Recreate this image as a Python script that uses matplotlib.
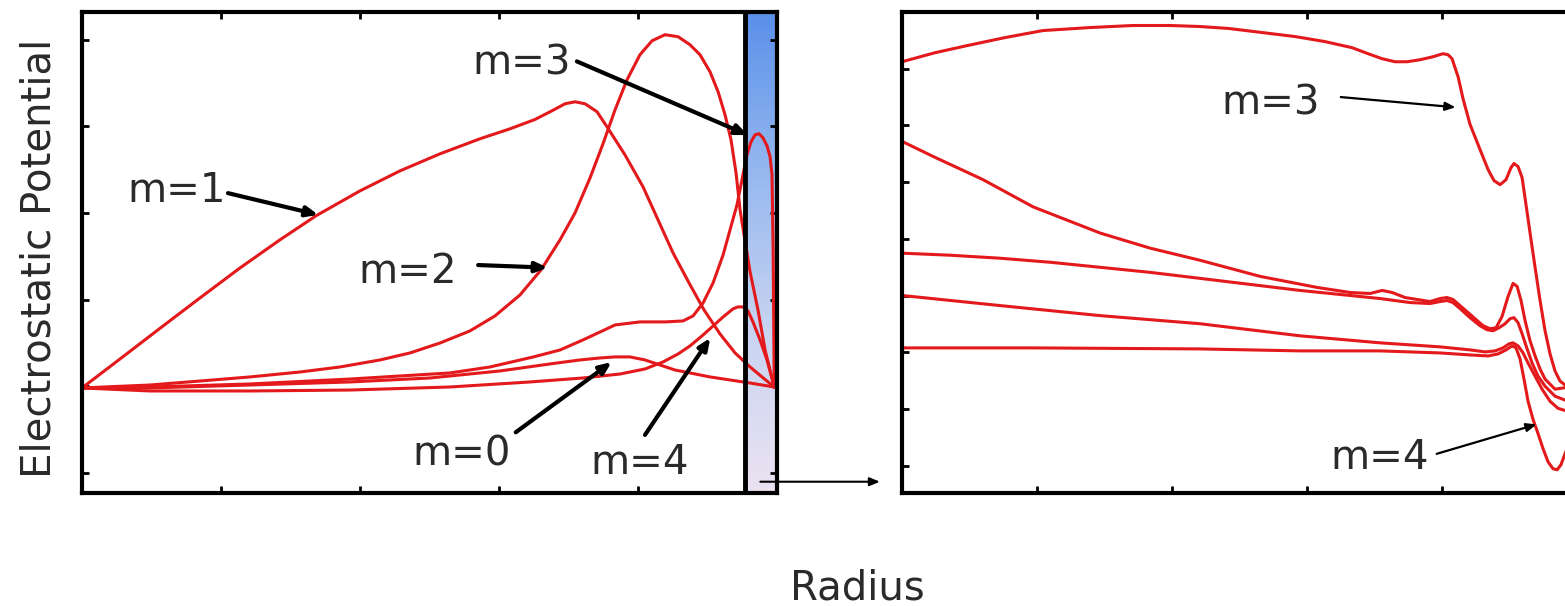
import numpy as np
import matplotlib.pyplot as plt
from matplotlib.colors import LinearSegmentedColormap

# ---- left panel: potential vs radius for each azimuthal mode ----
m0_r = [0.000, 0.489, 1.209, 1.928, 2.504, 3.007, 3.367, 3.583, 3.727, 3.835, 3.942,
        4.050, 4.158, 4.266, 4.374, 4.518, 4.662, 4.806, 4.980]
m0_phi = [0.982, 0.982, 1.016, 1.051, 1.097, 1.178, 1.259, 1.305, 1.328, 1.340, 1.340,
          1.305, 1.247, 1.189, 1.155, 1.109, 1.074, 1.039, 0.993]

m1_r = [0.000, 0.273, 0.583, 0.849, 1.137, 1.424, 1.683, 2.000, 2.288, 2.576, 2.863,
        3.079, 3.259, 3.381, 3.475, 3.547, 3.619, 3.705, 3.777, 3.906, 4.036, 4.144,
        4.252, 4.367, 4.475, 4.590, 4.698, 4.806, 4.892, 4.980]
m1_phi = [0.982, 1.316, 1.697, 2.021, 2.367, 2.691, 2.968, 3.256, 3.487, 3.684, 3.857,
          3.972, 4.080, 4.180, 4.261, 4.284, 4.261, 4.169, 3.995, 3.672, 3.303, 2.921,
          2.540, 2.194, 1.882, 1.605, 1.386, 1.224, 1.109, 0.993]

m2_r = [0.000, 0.489, 0.849, 1.209, 1.568, 1.856, 2.144, 2.360, 2.576, 2.791, 2.971,
        3.151, 3.302, 3.439, 3.547, 3.655, 3.748, 3.835, 3.921, 4.014, 4.101, 4.194,
        4.288, 4.374, 4.446, 4.518, 4.576, 4.626, 4.669, 4.705, 4.734, 4.763, 4.806,
        4.863, 4.914, 4.980]
m2_phi = [0.982, 1.016, 1.062, 1.109, 1.166, 1.224, 1.305, 1.386, 1.501, 1.640, 1.813,
          2.055, 2.344, 2.691, 3.002, 3.406, 3.799, 4.192, 4.538, 4.827, 4.988, 5.058,
          5.035, 4.942, 4.827, 4.630, 4.400, 4.134, 3.845, 3.466, 3.037, 2.748, 2.322,
          1.882, 1.420, 0.993]

m3_r = [0.000, 0.489, 1.209, 1.928, 2.647, 2.935, 3.245, 3.439, 3.604, 3.727, 3.835,
        4.014, 4.194, 4.324, 4.396, 4.468, 4.540, 4.612, 4.662, 4.712, 4.755, 4.784,
        4.813, 4.842, 4.871, 4.899, 4.928, 4.950, 4.964, 4.972, 4.980]
m3_phi = [0.982, 0.993, 1.028, 1.085, 1.155, 1.224, 1.339, 1.420, 1.536, 1.628, 1.709,
          1.744, 1.744, 1.755, 1.813, 1.963, 2.194, 2.517, 2.806, 3.095, 3.441, 3.672,
          3.822, 3.903, 3.915, 3.868, 3.776, 3.649, 3.441, 2.575, 0.993]

m4_r = [0.000, 0.489, 1.209, 1.928, 2.647, 3.223, 3.604, 3.871, 4.050, 4.180, 4.288,
        4.374, 4.460, 4.540, 4.612, 4.683, 4.719, 4.755, 4.791, 4.827, 4.878, 4.928,
        4.980]
m4_phi = [0.982, 0.947, 0.947, 0.958, 0.993, 1.051, 1.097, 1.143, 1.201, 1.282, 1.374,
          1.467, 1.582, 1.697, 1.801, 1.894, 1.917, 1.917, 1.871, 1.744, 1.536, 1.305,
          0.993]

# ---- right panel: zoom on the wall region ----
z3_r = [0.000, 0.244, 0.481, 0.763, 1.044, 1.393, 1.711, 1.985, 2.207, 2.422, 2.667,
        2.911, 3.133, 3.333, 3.452, 3.556, 3.652, 3.741, 3.837, 3.933, 4.007, 4.044,
        4.074, 4.119, 4.156, 4.207, 4.281, 4.341, 4.385, 4.430, 4.474, 4.511, 4.533,
        4.563, 4.593, 4.622, 4.652, 4.689, 4.726, 4.763, 4.800, 4.837, 4.874, 4.933]
z3_phi = [7.123, 7.282, 7.407, 7.549, 7.673, 7.726, 7.762, 7.762, 7.744, 7.709, 7.638,
          7.567, 7.478, 7.371, 7.265, 7.176, 7.123, 7.123, 7.158, 7.211, 7.265, 7.247,
          7.176, 6.856, 6.465, 6.021, 5.577, 5.222, 5.027, 4.956, 5.044, 5.258, 5.329,
          5.275, 5.080, 4.600, 4.103, 3.499, 2.913, 2.380, 1.972, 1.670, 1.492, 1.385]

z2_r = [0.000, 0.230, 0.600, 0.970, 1.467, 1.837, 2.207, 2.652, 3.074, 3.319, 3.467,
        3.556, 3.630, 3.726, 3.911, 3.985, 4.037, 4.081, 4.133, 4.193, 4.244, 4.304,
        4.356, 4.400, 4.444, 4.489, 4.526, 4.556, 4.585, 4.615, 4.652, 4.689, 4.726,
        4.763, 4.837, 4.933]
z2_phi = [5.719, 5.453, 5.044, 4.565, 4.103, 3.837, 3.623, 3.339, 3.144, 3.055, 3.037,
          3.091, 3.055, 2.966, 2.895, 2.948, 2.966, 2.931, 2.824, 2.700, 2.593, 2.469,
          2.416, 2.433, 2.629, 2.984, 3.215, 3.162, 2.913, 2.558, 2.202, 1.936, 1.705,
          1.528, 1.350, 1.385]

z1_r = [0.000, 0.356, 0.726, 1.096, 1.467, 1.837, 2.207, 2.578, 2.948, 3.244, 3.541,
        3.763, 3.911, 3.985, 4.037, 4.081, 4.133, 4.207, 4.281, 4.333, 4.378, 4.422,
        4.467, 4.504, 4.533, 4.563, 4.593, 4.630, 4.667, 4.711, 4.763, 4.837, 4.933]
z1_phi = [3.748, 3.712, 3.659, 3.588, 3.499, 3.410, 3.304, 3.197, 3.091, 3.020, 2.948,
          2.877, 2.860, 2.895, 2.913, 2.877, 2.771, 2.611, 2.469, 2.398, 2.380, 2.433,
          2.504, 2.593, 2.611, 2.522, 2.327, 2.060, 1.812, 1.581, 1.403, 1.226, 1.137]

z0_r = [0.000, 0.726, 1.467, 2.207, 2.948, 3.541, 3.985, 4.207, 4.319, 4.393, 4.452,
        4.496, 4.526, 4.563, 4.600, 4.637, 4.689, 4.741, 4.800, 4.859, 4.933]
z0_phi = [3.002, 2.824, 2.647, 2.504, 2.291, 2.167, 2.096, 2.043, 2.007, 2.025, 2.078,
          2.149, 2.167, 2.114, 1.989, 1.812, 1.581, 1.350, 1.137, 1.012, 0.959]

z4_r = [0.000, 0.970, 2.207, 2.948, 3.541, 3.985, 4.207, 4.341, 4.415, 4.474, 4.519,
        4.548, 4.578, 4.607, 4.637, 4.674, 4.711, 4.748, 4.785, 4.822, 4.852, 4.881,
        4.911, 4.948]
z4_phi = [2.078, 2.078, 2.060, 2.025, 2.025, 1.989, 1.954, 1.936, 1.972, 2.043, 2.114,
          2.078, 1.883, 1.528, 1.137, 0.817, 0.568, 0.302, 0.071, -0.053, -0.071, 0.018,
          0.213, 0.426]

wall_r = 4.77  # start of the shaded wall strip

RED = "#e3191c"
TXT = "#2a2a2a"
FS = 29

plt.rcParams["font.family"] = ["DejaVu Sans"]

fig = plt.figure(figsize=(15.65, 6.06), dpi=100)
ax1 = fig.add_axes([0.0524, 0.1865, 0.4441, 0.7937])
ax2 = fig.add_axes([0.5764, 0.1865, 0.4313, 0.7937])


def style(ax, yticks):
    ax.set_xticks(range(6))
    ax.set_yticks(yticks)
    ax.tick_params(direction="in", top=True, right=True, length=5, width=2,
                   labelbottom=False, labelleft=False)
    for s in ax.spines.values():
        s.set_linewidth(3)


# wall strip with vertical blue gradient
cmap = LinearSegmentedColormap.from_list(
    "wall", ["#ebe2f2", "#c9d4f1", "#96b8ef", "#5a90ea"])
grad = np.linspace(0, 1, 256).reshape(-1, 1)
ax1.imshow(grad, cmap=cmap, origin="lower", aspect="auto",
           extent=[wall_r, 5.0, -0.23, 5.32], zorder=0)
ax1.axvline(wall_r, color="k", lw=3.5, zorder=3)

for r, phi in ((m0_r, m0_phi), (m1_r, m1_phi), (m2_r, m2_phi),
               (m3_r, m3_phi), (m4_r, m4_phi)):
    ax1.plot(r, phi, color=RED, lw=2.2, solid_joinstyle="round", zorder=2)

ax1.set_xlim(0, 5)
ax1.set_ylim(-0.23, 5.32)
style(ax1, range(6))

thick = dict(arrowstyle="-|>,head_length=0.7,head_width=0.3", color="k", lw=3,
             shrinkA=0, shrinkB=0)
for lab, txy, tail, tip in (("m=1", (0.68, 3.25), (1.05, 3.23), (1.70, 2.98)),
                            ("m=2", (2.34, 2.32), (2.85, 2.40), (3.35, 2.37)),
                            ("m=3", (3.16, 4.73), (3.56, 4.75), (4.79, 3.90)),
                            ("m=0", (2.73, 0.21), (3.12, 0.47), (3.81, 1.28)),
                            ("m=4", (4.01, 0.12), (4.05, 0.44), (4.52, 1.56))):
    ax1.text(*txy, lab, fontsize=FS, color=TXT, ha="center", va="center")
    ax1.annotate("", xy=tip, xytext=tail, arrowprops=thick, zorder=4)

# link arrow from the wall strip to the zoomed panel
ax1.annotate("", xy=(5.74, -0.10), xytext=(4.88, -0.10), annotation_clip=False,
             arrowprops=dict(arrowstyle="-|>,head_length=0.6,head_width=0.25",
                             color="k", lw=1.5, shrinkA=0, shrinkB=0))

for r, phi in ((z3_r, z3_phi), (z2_r, z2_phi), (z1_r, z1_phi),
               (z0_r, z0_phi), (z4_r, z4_phi)):
    ax2.plot(r, phi, color=RED, lw=2.2, solid_joinstyle="round")

ax2.set_xlim(0, 5)
ax2.set_ylim(-0.48, 8.0)
style(ax2, range(9))

thin = dict(arrowstyle="-|>,head_length=0.6,head_width=0.25", color="k", lw=1.6,
            shrinkA=0, shrinkB=0)
for lab, txy, tail, tip in (("m=3", (2.73, 6.38), (3.25, 6.50), (4.10, 6.32)),
                            ("m=4", (3.54, 0.14), (3.96, 0.21), (4.70, 0.73))):
    ax2.text(*txy, lab, fontsize=FS, color=TXT, ha="center", va="center")
    ax2.annotate("", xy=tip, xytext=tail, arrowprops=thin)

fig.text(40 / 1565, 1 - 258 / 606, "Electrostatic Potential", rotation=90,
         fontsize=FS, color=TXT, ha="center", va="center")
fig.text(857 / 1565, 1 - 588 / 606, "Radius", fontsize=FS, color=TXT,
         ha="center", va="center")

fig.savefig("out.png", dpi=100)
